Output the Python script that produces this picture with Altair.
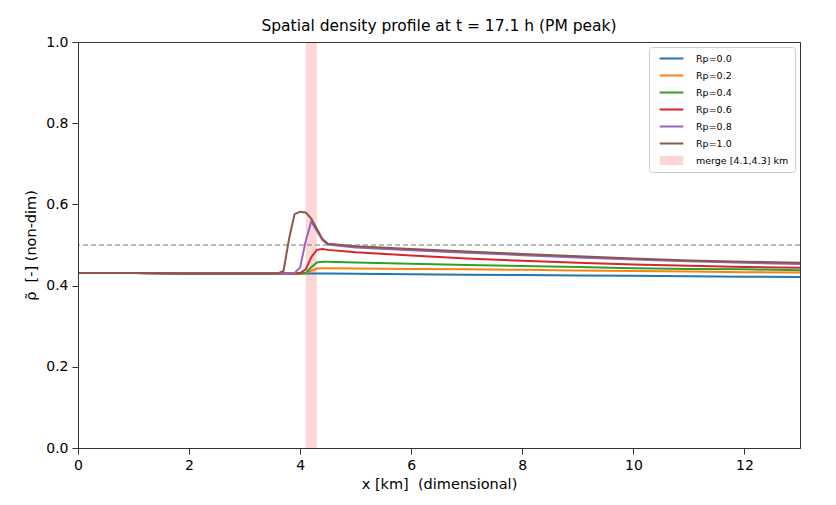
import altair as alt
import pandas as pd

x_km = [0, 1, 2, 3, 3.6, 3.7, 3.8, 3.9, 4.0, 4.1, 4.2, 4.3, 4.4, 4.5, 5, 6, 7, 8, 9, 10, 11, 12, 13]

rp00 = [0.431, 0.431, 0.430, 0.430, 0.430, 0.430, 0.430, 0.430, 0.430, 0.430, 0.430, 0.430, 0.430, 0.430, 0.429, 0.428, 0.427, 0.426, 0.425, 0.424, 0.423, 0.422, 0.421]
rp02 = [0.431, 0.431, 0.430, 0.430, 0.430, 0.430, 0.430, 0.430, 0.430, 0.430, 0.437, 0.442, 0.443, 0.443, 0.442, 0.441, 0.440, 0.439, 0.437, 0.436, 0.435, 0.433, 0.432]
rp04 = [0.431, 0.431, 0.430, 0.430, 0.430, 0.430, 0.430, 0.430, 0.430, 0.431, 0.445, 0.457, 0.459, 0.459, 0.457, 0.454, 0.451, 0.448, 0.446, 0.443, 0.441, 0.440, 0.438]
rp06 = [0.431, 0.431, 0.430, 0.430, 0.430, 0.430, 0.430, 0.430, 0.431, 0.440, 0.470, 0.488, 0.490, 0.488, 0.482, 0.474, 0.467, 0.461, 0.456, 0.452, 0.449, 0.446, 0.444]
rp08 = [0.431, 0.431, 0.430, 0.430, 0.430, 0.430, 0.430, 0.431, 0.445, 0.510, 0.558, 0.535, 0.512, 0.501, 0.494, 0.487, 0.481, 0.475, 0.469, 0.464, 0.460, 0.456, 0.453]
rp10 = [0.431, 0.431, 0.430, 0.430, 0.430, 0.436, 0.515, 0.576, 0.582, 0.580, 0.565, 0.540, 0.515, 0.503, 0.497, 0.490, 0.484, 0.478, 0.472, 0.467, 0.462, 0.459, 0.456]

series_names = ["Rp=0.0", "Rp=0.2", "Rp=0.4", "Rp=0.6", "Rp=0.8", "Rp=1.0"]
series_values = [rp00, rp02, rp04, rp06, rp08, rp10]
series_colors = ["#1f77b4", "#ff7f0e", "#2ca02c", "#d62728", "#9467bd", "#8c564b"]

merge_label = "merge [4.1,4.3] km"
merge_start = 4.1
merge_end = 4.3
merge_color = "#ffd6d6"
ref_level = 0.5

x_ticks = [0, 2, 4, 6, 8, 10, 12]
y_ticks = [0, 0.2, 0.4, 0.6, 0.8, 1.0]

rows = []
for name, vals in zip(series_names, series_values):
    for xv, yv in zip(x_km, vals):
        rows.append({"x": xv, "rho": yv, "series": name})
df = pd.DataFrame(rows)

merge_df = pd.DataFrame([{"x": merge_start, "x2": merge_end, "y": 0.0, "y2": 1.0, "series": merge_label}])
ref_df = pd.DataFrame([{"y": ref_level}])

domain = series_names + [merge_label]
crange = series_colors + [merge_color]
wrange = [2, 2, 2, 2, 2, 2, 9]

color_scale = alt.Scale(domain=domain, range=crange)
width_scale = alt.Scale(type="ordinal", domain=domain, range=wrange)


def make_legend():
    return alt.Legend(
        title=None,
        orient="top-right",
        offset=5,
        padding=6,
        fillColor="white",
        strokeColor="#cccccc",
        cornerRadius=3,
        labelFont="DejaVu Sans",
        labelFontSize=9.5,
        labelColor="#000000",
        symbolType="stroke",
        symbolSize=560,
        clipHeight=11,
        rowPadding=6,
        labelOffset=8,
        symbolOpacity=1,
    )


x_scale = alt.Scale(domain=[0, 13], nice=False, zero=False)
y_scale = alt.Scale(domain=[0, 1], nice=False)

frame_axis = dict(labels=False, ticks=False, grid=False, domain=True,
                  domainColor="#333333", domainWidth=1, title=None, zindex=1)

band = alt.Chart(merge_df).mark_rect(opacity=1).encode(
    x=alt.X("x:Q", scale=x_scale, axis=alt.Axis(orient="top", values=x_ticks, **frame_axis)),
    x2="x2:Q",
    y=alt.Y("y:Q", scale=y_scale, axis=alt.Axis(orient="right", values=y_ticks, **frame_axis)),
    y2="y2:Q",
    color=alt.Color("series:N", scale=color_scale, legend=make_legend(), sort=domain),
)

ref = alt.Chart(ref_df).mark_rule(color="#7a7a7a", strokeWidth=1.1, strokeDash=[5, 3]).encode(
    y=alt.Y("y:Q", scale=y_scale, axis=None)
)

lines = alt.Chart(df).mark_line().encode(
    x=alt.X("x:Q", scale=x_scale, title="x [km]\u00a0\u00a0(dimensional)",
            axis=alt.Axis(values=x_ticks, format="d", labelFlush=False, zindex=1)),
    y=alt.Y("rho:Q", scale=y_scale, title="ρ̃\u00a0\u00a0[-] (non-dim)",
            axis=alt.Axis(values=y_ticks, format=".1f", labelFlush=False, zindex=1)),
    color=alt.Color("series:N", scale=color_scale, legend=make_legend(), sort=domain),
    strokeWidth=alt.StrokeWidth("series:N", scale=width_scale, legend=make_legend(), sort=domain),
    order=alt.Order("x:Q"),
)

chart = alt.layer(band, ref, lines).resolve_axis(
    x="independent", y="independent"
).properties(
    width=722,
    height=406,
    title=alt.TitleParams(
        "Spatial density profile at t = 17.1 h (PM peak)",
        font="DejaVu Sans", fontSize=15.5, fontWeight="normal", color="#000000",
        anchor="middle", offset=1,
    ),
    autosize=alt.AutoSizeParams(type="none"),
    padding={"left": 70, "top": 34, "right": 28, "bottom": 49},
).configure_view(
    stroke="#333333", strokeWidth=1
).configure_axis(
    labelFont="DejaVu Sans", labelFontSize=14, labelColor="#000000",
    titleFont="DejaVu Sans", titleFontSize=14.5, titleFontWeight="normal", titleColor="#000000",
    domain=True, domainColor="#333333", domainWidth=1,
    tickColor="#333333", tickSize=6, tickWidth=1, labelPadding=4,
    grid=True, gridColor="#e8e8e8", gridWidth=0.8,
).configure_axisX(
    titlePadding=5
).configure_axisY(
    titlePadding=7
)

chart.save("out.html", embed_options={"renderer": "svg", "actions": False})
